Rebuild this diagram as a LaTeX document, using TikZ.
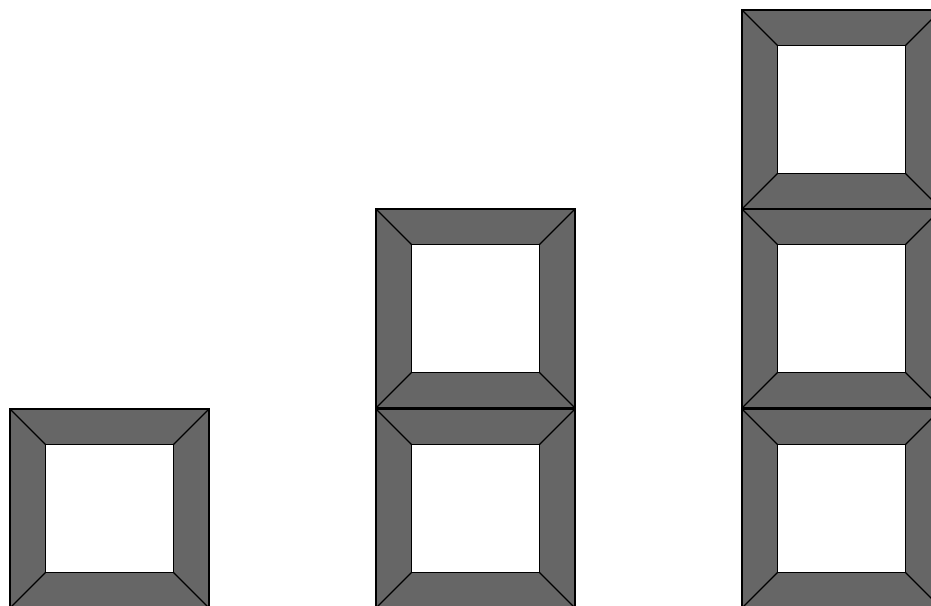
\documentclass[tikz,border=0pt]{standalone}
\definecolor{framegray}{HTML}{666666}
\tikzset{
  frameline/.style={draw=black, line width=1.3pt, line join=miter},
  pics/bevelframe/.style={
    code={
      \def\S{199}\def\B{35.5}
      \fill[framegray] (0,0) rectangle (\S,\S);
      \fill[white] (\B,\B) rectangle (\S-\B,\S-\B);
      \draw[frameline] (0,0) rectangle (\S,\S);
      \draw[frameline] (\B,\B) rectangle (\S-\B,\S-\B);
      \draw[frameline] (0,0) -- (\B,\B);
      \draw[frameline] (\S,0) -- (\S-\B,\B);
      \draw[frameline] (0,\S) -- (\B,\S-\B);
      \draw[frameline] (\S,\S) -- (\S-\B,\S-\B);
    }
  }
}
\begin{document}
\begin{tikzpicture}[x=1pt,y=-1pt]
\useasboundingbox (0,0) rectangle (931,605);
\begin{scope}
\clip (0,0) rectangle (931,605);
\foreach \px/\py in {10/409, 376/209, 376/409, 742/10, 742/209, 742/409}
  \pic at (\px,\py) {bevelframe};
\end{scope}
\end{tikzpicture}
\end{document}
